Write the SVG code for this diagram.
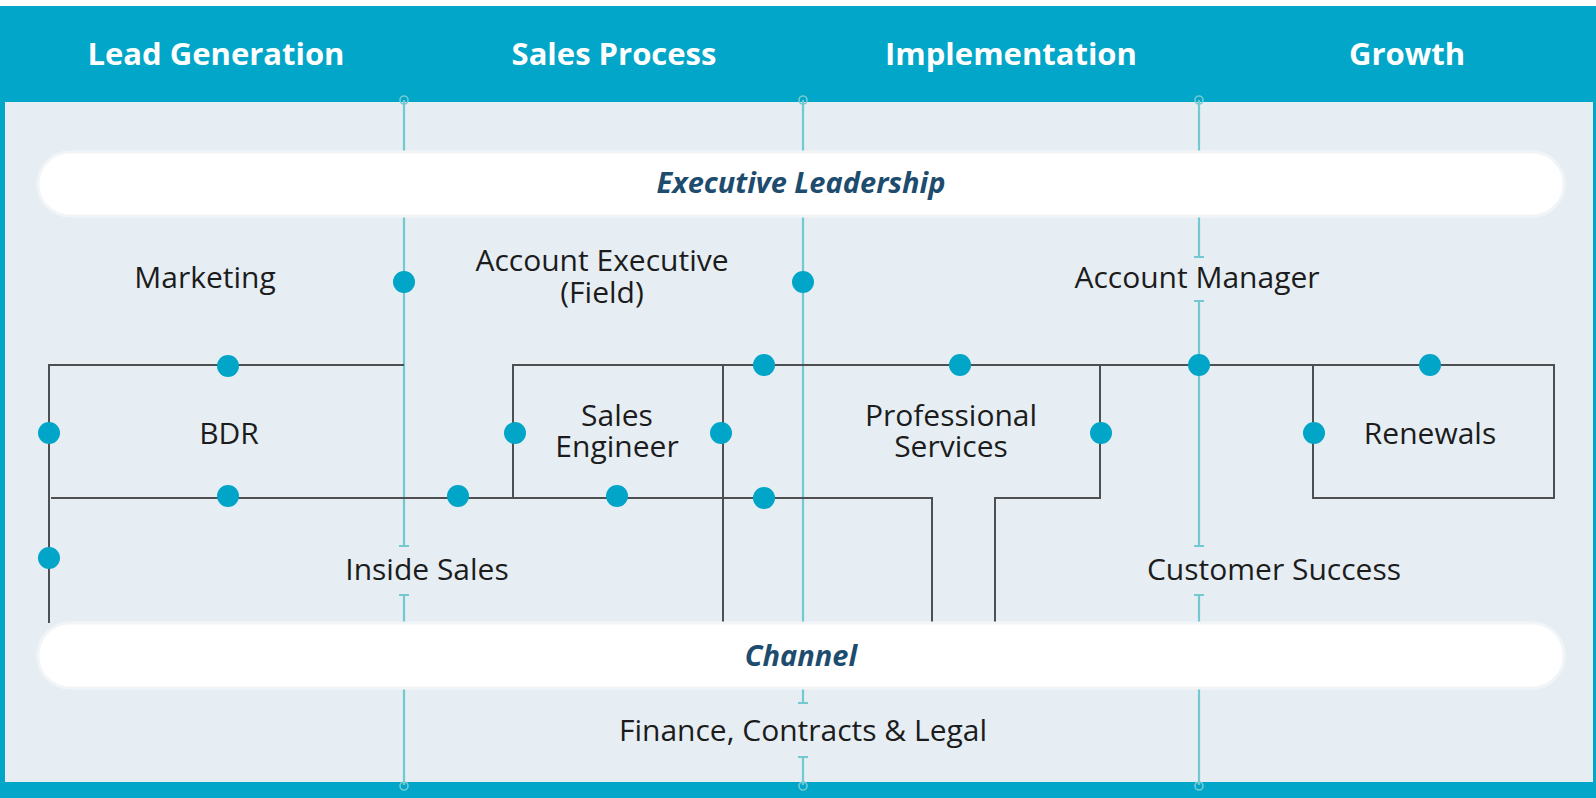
<svg xmlns="http://www.w3.org/2000/svg" width="1596" height="798" viewBox="0 0 1596 798">
  <defs>
    <style>
      .hdr { font-family: "Open Sans", "Liberation Sans", sans-serif; font-weight: 700; font-size: 31px; fill: #ffffff; text-anchor: middle; }
      .lbl { font-family: "Open Sans", "Liberation Sans", sans-serif; font-size: 30px; fill: #1c1c1c; text-anchor: middle; }
      .band-text { font-family: "Open Sans", "Liberation Sans", sans-serif; font-weight: 700; font-style: italic; font-size: 29px; fill: #1d4c6e; text-anchor: middle; }
      .band { fill: #ffffff; stroke: #f2f5f7; stroke-width: 3; }
      .tl { stroke: #74c9d1; stroke-width: 2.2; fill: none; }
      .cap { stroke: #74c9d1; stroke-width: 2.2; }
      .ring { stroke: #74c9d1; stroke-width: 1.6; fill: none; }
      .gl { stroke: #4d4f51; stroke-width: 2; fill: none; }
      .dot { fill: #00a5c8; }
    </style>
  </defs>

  <!-- frame and stage header -->
  <rect x="0" y="0" width="1596" height="798" fill="#ffffff"/>
  <rect x="0" y="6" width="1596" height="792" fill="#02a6c8"/>
  <rect x="5" y="102" width="1588" height="680" fill="#e6eef4"/>

  <g id="stages">
    <text class="hdr" x="216" y="65">Lead Generation</text>
    <text class="hdr" x="614" y="65">Sales Process</text>
    <text class="hdr" x="1011" y="65">Implementation</text>
    <text class="hdr" x="1407" y="65">Growth</text>
  </g>

  <g id="connectors">
    <!-- stage boundary lines -->
    <path class="tl" d="M404,100 V546 M404,595 V785"/>
    <path class="tl" d="M803,100 V703 M803,757 V785"/>
    <path class="tl" d="M1199,100 V257 M1199,301 V546 M1199,595 V785"/>
    <path class="cap" d="M399,546 H409 M399,595 H409 M798,703 H808 M798,757 H808 M1194,257 H1204 M1194,301 H1204 M1194,546 H1204 M1194,595 H1204"/>
    <circle class="ring" cx="404" cy="100" r="4"/>
    <circle class="ring" cx="803" cy="100" r="4"/>
    <circle class="ring" cx="1199" cy="100" r="4"/>
    <circle class="ring" cx="404" cy="786" r="4"/>
    <circle class="ring" cx="803" cy="786" r="4"/>
    <circle class="ring" cx="1199" cy="786" r="4"/>

    <!-- team hand-off lines -->
    <path class="gl" d="M404,365 H49 V623"/>
    <path class="gl" d="M51,498 H932 V623"/>
    <path class="gl" d="M513,498 V365 H1554 V498 H1313 V365"/>
    <path class="gl" d="M723,365 V623"/>
    <path class="gl" d="M1100,365 V498 H995 V623"/>
  </g>

  <g id="executive-leadership">
    <rect class="band" x="38" y="152" width="1526" height="64" rx="32"/>
    <text class="band-text" x="801" y="193">Executive Leadership</text>
  </g>

  <g id="channel">
    <rect class="band" x="38" y="623" width="1526" height="65" rx="32"/>
    <text class="band-text" x="801" y="666">Channel</text>
  </g>

  <g id="junctions">
    <circle class="dot" cx="404" cy="282" r="11"/>
    <circle class="dot" cx="803" cy="282" r="11"/>
    <circle class="dot" cx="228" cy="366" r="11"/>
    <circle class="dot" cx="49" cy="433" r="11"/>
    <circle class="dot" cx="228" cy="496" r="11"/>
    <circle class="dot" cx="458" cy="496" r="11"/>
    <circle class="dot" cx="49" cy="558" r="11"/>
    <circle class="dot" cx="515" cy="433" r="11"/>
    <circle class="dot" cx="617" cy="496" r="11"/>
    <circle class="dot" cx="721" cy="433" r="11"/>
    <circle class="dot" cx="764" cy="365" r="11"/>
    <circle class="dot" cx="764" cy="498" r="11"/>
    <circle class="dot" cx="960" cy="365" r="11"/>
    <circle class="dot" cx="1101" cy="433" r="11"/>
    <circle class="dot" cx="1199" cy="365" r="11"/>
    <circle class="dot" cx="1314" cy="433" r="11"/>
    <circle class="dot" cx="1430" cy="365" r="11"/>
  </g>

  <g id="marketing"><text class="lbl" x="205" y="288">Marketing</text></g>
  <g id="account-executive">
    <text class="lbl" x="602" y="271">Account Executive<tspan x="602" dy="32">(Field)</tspan></text>
  </g>
  <g id="account-manager"><text class="lbl" x="1197" y="288">Account Manager</text></g>
  <g id="bdr"><text class="lbl" x="229" y="444">BDR</text></g>
  <g id="sales-engineer">
    <text class="lbl" x="617" y="426">Sales<tspan x="617" dy="30.5">Engineer</tspan></text>
  </g>
  <g id="professional-services">
    <text class="lbl" x="951" y="426">Professional<tspan x="951" dy="30.5">Services</tspan></text>
  </g>
  <g id="renewals"><text class="lbl" x="1430" y="444">Renewals</text></g>
  <g id="inside-sales"><text class="lbl" x="427" y="580">Inside Sales</text></g>
  <g id="customer-success"><text class="lbl" x="1274" y="580">Customer Success</text></g>
  <g id="finance"><text class="lbl" x="803" y="741">Finance, Contracts &amp; Legal</text></g>
</svg>
